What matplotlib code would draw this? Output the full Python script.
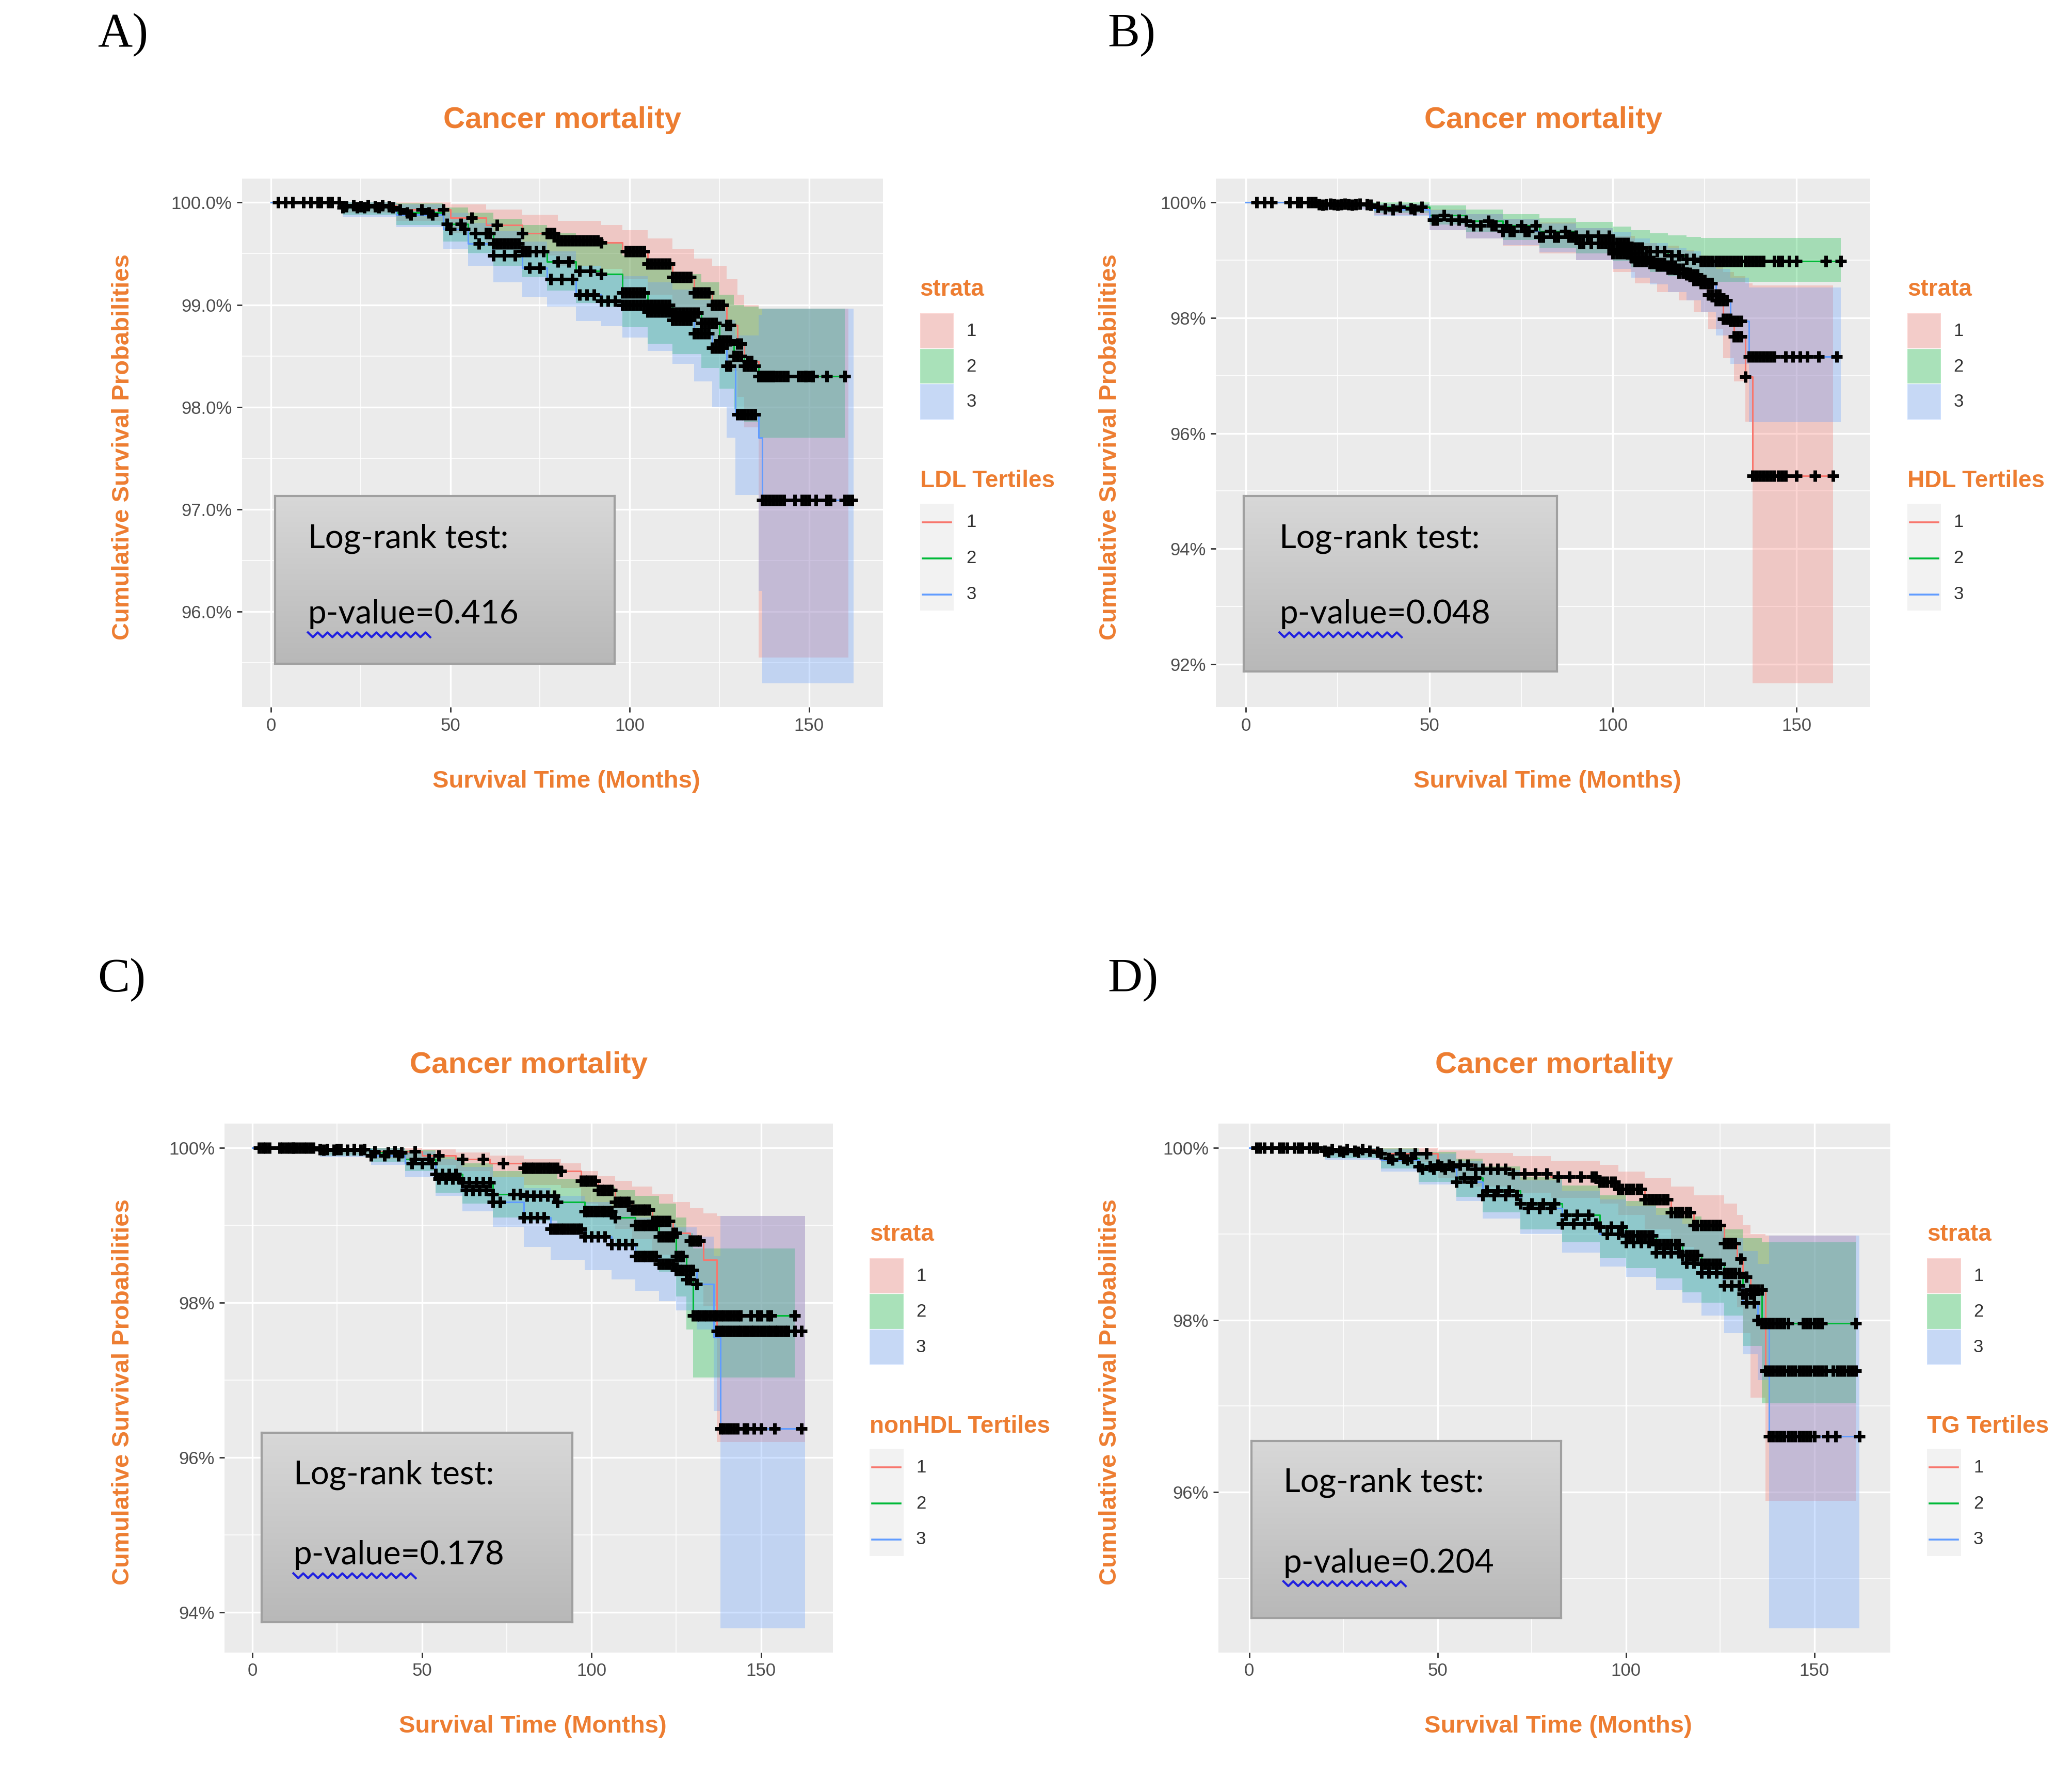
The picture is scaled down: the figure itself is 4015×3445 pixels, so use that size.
import numpy as np
import matplotlib
matplotlib.use('Agg')
import matplotlib.pyplot as plt
from matplotlib.patches import Rectangle
from matplotlib.lines import Line2D
from matplotlib.colors import LinearSegmentedColormap
from matplotlib import font_manager

# ---------------- data ----------------
STRATA = ['1', '2', '3']
COLORS = ['#F8766D', '#00BA38', '#619CFF']
ORANGE = '#ED7D31'

PANEL_LETTERS = ['A)', 'B)', 'C)', 'D)']
LEGEND_TITLES = ['LDL Tertiles', 'HDL Tertiles', 'nonHDL Tertiles', 'TG Tertiles']
P_VALUES = ['0.416', '0.048', '0.178', '0.204']
X_TICKS = [0, 50, 100, 150]

A_YTICKS = [96, 97, 98, 99, 100]
A_YLABELS = ['96.0%', '97.0%', '98.0%', '99.0%', '100.0%']
B_YTICKS = [92, 94, 96, 98, 100]
B_YLABELS = ['92%', '94%', '96%', '98%', '100%']
C_YTICKS = [94, 96, 98, 100]
C_YLABELS = ['94%', '96%', '98%', '100%']
D_YTICKS = [96, 98, 100]
D_YLABELS = ['96%', '98%', '100%']

# Panel A (LDL) - step times, survival %, CI bounds, censor times
A_T1 = [0, 20, 35, 50, 60, 70, 80, 92, 98, 105, 112, 118, 123, 127, 130, 132, 136, 161]
A_S1 = [100, 99.97, 99.93, 99.85, 99.78, 99.7, 99.63, 99.61, 99.52, 99.4, 99.27, 99.12, 99.0, 98.8, 98.62, 98.45, 98.3, 98.3]
A_HI1 = [100, 100, 100, 99.98, 99.93, 99.88, 99.82, 99.78, 99.73, 99.65, 99.55, 99.45, 99.38, 99.25, 99.1, 99.0, 98.96, 98.96]
A_LO1 = [100, 99.9, 99.82, 99.7, 99.6, 99.48, 99.38, 99.35, 99.25, 99.1, 98.95, 98.78, 98.6, 98.35, 98.1, 97.8, 95.55, 95.55]
A_C1 = [2, 9, 14, 19, 23, 27, 31, 36, 42, 48, 56, 63, 70, 77, 78, 79, 80, 81, 82, 83, 84, 85, 86, 87, 88, 89, 90, 91,
        92, 99, 100, 101, 102, 103, 104, 105, 106, 107, 108, 109, 110, 111, 112, 113, 114, 115, 116, 117, 118, 119, 120,
        121, 122, 123, 124, 125, 126, 127, 128, 130, 131, 133, 134, 136, 137, 138, 139, 140, 141, 142, 143, 144, 148,
        149, 150, 151, 155, 160]

A_T2 = [0, 20, 35, 48, 55, 62, 70, 77, 85, 92, 98, 105, 112, 120, 125, 129, 132, 136, 160]
A_S2 = [100, 99.96, 99.9, 99.79, 99.7, 99.6, 99.52, 99.42, 99.33, 99.3, 99.12, 99.0, 98.92, 98.82, 98.65, 98.5, 98.4, 98.3, 98.3]
A_HI2 = [100, 100, 99.99, 99.95, 99.9, 99.84, 99.78, 99.7, 99.63, 99.6, 99.48, 99.38, 99.3, 99.22, 99.1, 99.0, 98.98, 98.96, 98.96]
A_LO2 = [100, 99.88, 99.78, 99.62, 99.5, 99.38, 99.27, 99.14, 99.02, 98.98, 98.78, 98.62, 98.52, 98.38, 98.18, 97.98, 97.85, 97.7, 97.7]
A_C2 = [4, 11, 16, 21, 25, 29, 33, 38, 44, 49, 53, 57, 60, 61, 62, 63, 64, 65, 66, 67, 68, 69, 70, 71, 72, 74, 76, 80,
        83, 86, 89, 92, 98, 99, 100, 101, 102, 103, 104, 105, 106, 107, 108, 109, 110, 111, 112, 113, 114, 115, 116,
        117, 118, 119, 120, 121, 122, 123, 124, 125, 126, 127, 128, 129, 130, 131, 132, 133, 134, 135, 136, 137, 138,
        139, 140, 147, 149, 151, 160]

A_T3 = [0, 20, 35, 48, 55, 62, 70, 77, 85, 92, 98, 105, 112, 118, 123, 127, 129.5, 136, 137, 162.5]
A_S3 = [100, 99.95, 99.88, 99.74, 99.6, 99.48, 99.36, 99.25, 99.1, 99.04, 99.0, 98.93, 98.85, 98.72, 98.58, 98.4, 97.93, 97.7, 97.09, 97.09]
A_HI3 = [100, 100, 99.98, 99.9, 99.8, 99.72, 99.62, 99.52, 99.38, 99.3, 99.28, 99.22, 99.15, 99.05, 98.95, 98.85, 98.7, 98.9, 98.96, 98.96]
A_LO3 = [100, 99.86, 99.76, 99.55, 99.38, 99.22, 99.08, 98.98, 98.84, 98.79, 98.68, 98.55, 98.42, 98.25, 98.0, 97.7, 97.14, 96.2, 95.3, 95.3]
A_C3 = [6, 13, 17, 20, 24, 26, 30, 34, 39, 45, 50, 54, 58, 62, 65, 68, 72, 75, 78, 81, 84, 86, 88, 90, 92, 94, 96, 98,
        99, 100, 101, 102, 103, 104, 105, 106, 107, 108, 109, 110, 111, 112, 113, 114, 115, 116, 117, 118, 119, 120,
        121, 122, 123, 124, 125, 126, 127, 128, 130, 131, 132, 133, 134, 135, 137, 138, 139, 140, 141, 142, 143, 146,
        148, 149, 150, 152, 155, 156, 160, 161, 162]

# Panel B (HDL)
B_T1 = [0, 20, 35, 50, 60, 70, 80, 90, 100, 106, 112, 118, 122, 126, 130, 133, 136, 138, 160]
B_S1 = [100, 99.97, 99.9, 99.7, 99.6, 99.5, 99.4, 99.3, 99.12, 98.98, 98.9, 98.78, 98.65, 98.4, 97.98, 97.68, 96.98, 95.26, 95.26]
B_HI1 = [100, 100, 99.98, 99.88, 99.8, 99.72, 99.65, 99.56, 99.42, 99.3, 99.25, 99.17, 99.08, 98.95, 98.8, 98.72, 98.6, 98.56, 98.56]
B_LO1 = [100, 99.9, 99.78, 99.52, 99.38, 99.25, 99.12, 99.0, 98.8, 98.6, 98.45, 98.3, 98.1, 97.8, 97.3, 96.9, 96.2, 91.67, 91.67]
B_C1 = [3, 12, 17, 20, 22, 24, 26, 28, 30, 33, 38, 45, 52, 58, 64, 68, 72, 76, 80, 84, 88, 92, 96, 98, 100, 101, 102,
        103, 104, 105, 106, 107, 108, 109, 110, 111, 112, 113, 114, 115, 116, 117, 118, 119, 120, 121, 122, 123, 124,
        125, 126, 127, 128, 129, 130, 131, 132, 133, 134, 135, 136, 138, 139, 140, 141, 142, 143, 144, 145, 146, 147,
        150, 155, 160]

B_T2 = [0, 20, 35, 50, 60, 70, 80, 90, 100, 105, 110, 115, 120, 124, 162]
B_S2 = [100, 99.98, 99.92, 99.78, 99.68, 99.6, 99.5, 99.42, 99.3, 99.22, 99.15, 99.08, 99.02, 98.98, 98.98]
B_HI2 = [100, 100, 100, 99.95, 99.88, 99.8, 99.73, 99.66, 99.58, 99.52, 99.47, 99.43, 99.4, 99.39, 99.39]
B_LO2 = [100, 99.92, 99.82, 99.62, 99.48, 99.35, 99.22, 99.12, 98.98, 98.88, 98.8, 98.72, 98.66, 98.63, 98.63]
B_C2 = [5, 14, 19, 23, 27, 31, 36, 42, 48, 54, 60, 66, 71, 75, 79, 83, 87, 90, 93, 96, 99, 100, 101, 102, 103, 104,
        105, 106, 107, 108, 110, 112, 114, 116, 118, 120, 122, 124, 125, 126, 127, 128, 129, 130, 131, 132, 133, 134,
        135, 136, 137, 138, 139, 140, 141, 144, 145, 146, 148, 150, 158, 162]

B_T3 = [0, 20, 35, 50, 60, 70, 80, 90, 100, 105, 110, 115, 120, 124, 128, 132, 137, 162]
B_S3 = [100, 99.96, 99.88, 99.7, 99.6, 99.5, 99.4, 99.3, 99.18, 99.05, 98.95, 98.85, 98.75, 98.6, 98.3, 97.95, 97.33, 97.33]
B_HI3 = [100, 100, 99.98, 99.87, 99.8, 99.72, 99.64, 99.56, 99.48, 99.38, 99.3, 99.22, 99.15, 99.05, 98.85, 98.7, 98.53, 98.53]
B_LO3 = [100, 99.88, 99.76, 99.52, 99.38, 99.26, 99.14, 99.0, 98.85, 98.7, 98.58, 98.45, 98.3, 98.1, 97.7, 97.2, 96.19, 96.19]
B_C3 = [7, 15, 18, 21, 25, 29, 34, 40, 46, 51, 56, 62, 67, 70, 73, 77, 81, 85, 89, 91, 94, 97, 99, 100, 101, 102, 103,
        104, 105, 106, 107, 108, 109, 110, 111, 112, 113, 114, 115, 116, 117, 118, 119, 120, 121, 122, 123, 124, 125,
        126, 127, 128, 129, 130, 131, 132, 133, 134, 135, 137, 138, 139, 140, 141, 142, 143, 144, 147, 149, 151, 153,
        156, 161]

# Panel C (nonHDL)
C_T1 = [0, 20, 35, 50, 60, 70, 80, 91, 97, 102, 107, 112, 118, 124, 129, 133, 137, 163]
C_S1 = [100, 99.98, 99.95, 99.9, 99.85, 99.8, 99.74, 99.7, 99.57, 99.45, 99.3, 99.2, 99.05, 98.9, 98.8, 98.55, 97.63, 97.63]
C_HI1 = [100, 100, 100, 99.98, 99.94, 99.9, 99.85, 99.8, 99.7, 99.63, 99.57, 99.5, 99.4, 99.3, 99.22, 99.15, 99.12, 99.12]
C_LO1 = [100, 99.92, 99.86, 99.78, 99.7, 99.62, 99.52, 99.48, 99.28, 99.12, 98.95, 98.82, 98.62, 98.42, 98.28, 97.95, 96.2, 96.2]
C_C1 = [2, 5, 10, 12, 14, 16, 20, 25, 30, 36, 42, 48, 55, 62, 68, 74, 80, 81, 82, 83, 84, 85, 86, 87, 88, 89, 90, 91,
        97, 98, 99, 100, 101, 102, 103, 104, 105, 106, 107, 108, 109, 110, 111, 112, 113, 114, 115, 116, 117, 118, 119,
        120, 121, 122, 123, 124, 125, 129, 130, 131, 132, 137, 138, 139, 140, 141, 142, 143, 144, 145, 146, 147, 148,
        149, 150, 151, 152, 153, 154, 155, 156, 157, 158, 160, 162]

C_T2 = [0, 20, 35, 45, 54, 62, 71, 80, 90, 98, 107, 113, 120, 125, 128, 130, 160]
C_S2 = [100, 99.98, 99.94, 99.85, 99.66, 99.55, 99.4, 99.38, 99.3, 99.18, 99.1, 99.0, 98.85, 98.6, 98.3, 97.83, 97.83]
C_HI2 = [100, 100, 100, 99.97, 99.88, 99.8, 99.7, 99.67, 99.6, 99.5, 99.45, 99.38, 99.28, 99.1, 98.9, 98.7, 98.7]
C_LO2 = [100, 99.9, 99.82, 99.7, 99.42, 99.28, 99.1, 99.06, 98.96, 98.82, 98.72, 98.6, 98.4, 98.08, 97.65, 97.03, 97.03]
C_C2 = [3, 8, 11, 13, 15, 18, 22, 26, 30, 33, 36, 40, 44, 48, 52, 54, 56, 58, 60, 62, 64, 66, 68, 70, 71, 77, 79, 81,
        83, 85, 87, 89, 90, 98, 99, 100, 101, 102, 103, 104, 105, 106, 107, 113, 114, 115, 116, 117, 118, 119, 120,
        121, 122, 123, 124, 125, 126, 127, 128, 129, 130, 131, 132, 133, 134, 135, 136, 137, 138, 139, 140, 141, 142,
        143, 144, 147, 149, 150, 152, 153, 160]

C_T3 = [0, 20, 35, 45, 54, 62, 71, 80, 88, 98, 106, 113, 120, 125, 131, 136, 138, 163]
C_S3 = [100, 99.97, 99.9, 99.8, 99.6, 99.45, 99.3, 99.1, 98.95, 98.85, 98.75, 98.6, 98.5, 98.42, 98.24, 97.55, 96.37, 96.37]
C_HI3 = [100, 100, 99.99, 99.95, 99.85, 99.75, 99.62, 99.48, 99.38, 99.3, 99.22, 99.1, 99.02, 98.97, 98.85, 98.6, 99.12, 99.12]
C_LO3 = [100, 99.88, 99.78, 99.62, 99.38, 99.18, 98.98, 98.72, 98.55, 98.42, 98.3, 98.15, 98.02, 97.9, 97.65, 96.6, 93.79, 93.79]
C_C3 = [4, 9, 12, 17, 21, 24, 28, 32, 35, 39, 43, 47, 50, 53, 55, 57, 59, 61, 63, 65, 67, 69, 71, 73, 80, 82, 84, 86,
        88, 89, 90, 91, 92, 93, 94, 95, 96, 97, 98, 100, 102, 104, 106, 108, 110, 112, 113, 114, 115, 116, 117, 118,
        119, 120, 121, 122, 123, 124, 125, 126, 127, 128, 129, 130, 131, 138, 139, 140, 141, 142, 143, 145, 146, 148,
        150, 154, 162]

# Panel D (TG)
D_T1 = [0, 20, 35, 50, 60, 70, 80, 93, 98, 105, 112, 118, 126, 129.5, 131, 133, 137, 161]
D_S1 = [100, 99.98, 99.93, 99.8, 99.75, 99.7, 99.66, 99.6, 99.52, 99.4, 99.25, 99.1, 98.89, 98.71, 98.5, 98.35, 97.41, 97.41]
D_HI1 = [100, 100, 100, 99.97, 99.94, 99.9, 99.85, 99.8, 99.72, 99.65, 99.55, 99.45, 99.35, 99.22, 99.1, 99.0, 98.98, 98.98]
D_LO1 = [100, 99.92, 99.83, 99.65, 99.55, 99.48, 99.42, 99.35, 99.22, 99.05, 98.85, 98.68, 98.4, 98.15, 97.85, 97.1, 95.9, 95.9]
D_C1 = [2, 6, 10, 14, 18, 22, 26, 30, 35, 40, 44, 47, 50, 53, 56, 58, 60, 62, 64, 66, 68, 70, 73, 76, 79, 82, 85, 88,
        91, 92, 93, 94, 95, 96, 97, 98, 99, 100, 101, 102, 103, 104, 105, 106, 107, 108, 109, 110, 111, 112, 113, 114,
        115, 116, 117, 118, 119, 120, 121, 122, 123, 124, 125, 126, 127, 128, 129, 130.5, 132, 133, 134, 135, 136, 137,
        138, 139, 140, 141, 142, 143, 144, 145, 146, 147, 148, 149, 150, 151, 152, 153, 155, 156, 157, 158, 159, 160, 161]

D_T2 = [0, 20, 35, 45, 55, 62, 72, 83, 93, 100, 108, 115, 120, 126, 131, 136, 161]
D_S2 = [100, 99.96, 99.88, 99.78, 99.65, 99.5, 99.35, 99.22, 99.08, 98.98, 98.88, 98.75, 98.65, 98.54, 98.3, 97.96, 97.96]
D_HI2 = [100, 100, 99.99, 99.95, 99.87, 99.78, 99.66, 99.56, 99.45, 99.38, 99.3, 99.2, 99.12, 99.05, 98.95, 98.9, 98.9]
D_LO2 = [100, 99.88, 99.76, 99.6, 99.43, 99.25, 99.05, 98.9, 98.72, 98.6, 98.48, 98.32, 98.2, 98.05, 97.7, 97.03, 97.03]
D_C2 = [3, 8, 12, 16, 20, 24, 28, 32, 37, 41, 43, 45, 48, 51, 54, 57, 60, 63, 66, 69, 72, 75, 78, 81, 84, 87, 90, 93,
        96, 99, 100, 101, 102, 103, 104, 105, 106, 107, 108, 109, 110, 111, 112, 113, 114, 115, 116, 117, 118, 119, 120,
        121, 122, 123, 124, 125, 126, 127, 128, 129, 130, 131, 132, 133, 134, 136, 137, 138, 139, 140, 141, 142, 143,
        147, 148, 149, 150, 151, 152, 161]

D_T3 = [0, 20, 35, 45, 55, 62, 72, 83, 93, 100, 108, 115, 120, 126, 131, 135, 138, 162]
D_S3 = [100, 99.95, 99.86, 99.75, 99.6, 99.45, 99.3, 99.12, 99.0, 98.9, 98.78, 98.66, 98.55, 98.4, 98.2, 98.0, 96.65, 96.65]
D_HI3 = [100, 100, 99.98, 99.93, 99.84, 99.74, 99.62, 99.5, 99.4, 99.32, 99.22, 99.12, 99.05, 98.95, 98.8, 98.65, 98.98, 98.98]
D_LO3 = [100, 99.86, 99.72, 99.57, 99.38, 99.18, 99.0, 98.78, 98.62, 98.5, 98.35, 98.2, 98.05, 97.85, 97.6, 97.3, 94.42, 94.42]
D_C3 = [4, 9, 13, 17, 21, 25, 29, 34, 38, 42, 46, 49, 52, 55, 59, 62, 65, 68, 71, 74, 77, 80, 83, 86, 89, 92, 95, 98,
        100, 102, 104, 106, 108, 110, 112, 114, 116, 118, 120, 122, 124, 126, 128, 130, 132, 134, 135, 138, 139, 140,
        141, 142, 143, 144, 145, 146, 147, 148, 149, 150, 153.5, 155.7, 162]

# ---------------- layout (in 1568 x 1345 reference units) ----------------
REF_W, REF_H = 1568.0, 1345.0

PANEL_BOXES = [(183, 135, 668, 535), (920, 135, 1415, 535), (170, 850, 630, 1250), (922, 850, 1430, 1250)]
LETTER_POS = [(74, 35), (838, 35), (74, 750), (838, 750)]
LOGRANK_BOXES = [(208, 375, 465, 502), (941, 375, 1178, 508), (198, 1084, 433, 1227), (947, 1090, 1181, 1224)]
LOGRANK_TEXT = [(233, 414.5, 471.7), (968, 414.5, 471.7), (222, 1122.5, 1183.5), (971, 1128.5, 1189.5)]
YLABEL_X = [93, 840, 93, 840]

plt.rcParams['font.family'] = ['Liberation Sans', 'DejaVu Sans']
installed = {f.name for f in font_manager.fontManager.ttflist}
BOX_FONT = 'Lato' if 'Lato' in installed else 'DejaVu Sans'
SERIF = 'Liberation Serif' if 'Liberation Serif' in installed else 'DejaVu Serif'


def fx(x):
    return x / REF_W


def fy(y):
    return 1 - y / REF_H


def rect(x0, y0, x1, y1):
    return [fx(x0), fy(y1), (x1 - x0) / REF_W, (y1 - y0) / REF_H]


def step_at(t, s, when):
    idx = np.searchsorted(t, when, side='right') - 1
    return np.asarray(s)[idx]


def minor_between(ticks, lo, hi):
    step = ticks[1] - ticks[0]
    cands = [ticks[0] - step / 2] + [v + step / 2 for v in ticks]
    return [v for v in cands if lo < v < hi]


fig = plt.figure(figsize=(40.16, 34.45), dpi=100)

panels = [
    ([(A_T1, A_S1, A_LO1, A_HI1, A_C1), (A_T2, A_S2, A_LO2, A_HI2, A_C2), (A_T3, A_S3, A_LO3, A_HI3, A_C3)],
     A_YTICKS, A_YLABELS),
    ([(B_T1, B_S1, B_LO1, B_HI1, B_C1), (B_T2, B_S2, B_LO2, B_HI2, B_C2), (B_T3, B_S3, B_LO3, B_HI3, B_C3)],
     B_YTICKS, B_YLABELS),
    ([(C_T1, C_S1, C_LO1, C_HI1, C_C1), (C_T2, C_S2, C_LO2, C_HI2, C_C2), (C_T3, C_S3, C_LO3, C_HI3, C_C3)],
     C_YTICKS, C_YLABELS),
    ([(D_T1, D_S1, D_LO1, D_HI1, D_C1), (D_T2, D_S2, D_LO2, D_HI2, D_C2), (D_T3, D_S3, D_LO3, D_HI3, D_C3)],
     D_YTICKS, D_YLABELS),
]

grad = LinearSegmentedColormap.from_list('boxgrad', ['#D8D8D8', '#B8B8B8'])

for i, (strata, yticks, ylabels) in enumerate(panels):
    x0, y0, x1, y1 = PANEL_BOXES[i]
    ax = fig.add_axes(rect(x0, y0, x1, y1))
    ax.set_facecolor('#EBEBEB')
    for sp in ax.spines.values():
        sp.set_visible(False)

    # confidence ribbons
    for (t, s, lo, hi, cens), col in zip(strata, COLORS):
        ax.fill_between(t, lo, hi, step='post', color=col, alpha=0.3, linewidth=0, zorder=2)
    # survival curves
    for (t, s, lo, hi, cens), col in zip(strata, COLORS):
        ax.step(t, s, where='post', color=col, lw=2.2, zorder=3)
    # censor marks
    for (t, s, lo, hi, cens), col in zip(strata, COLORS):
        ax.plot(cens, step_at(t, s, cens), ls='none', marker='+', ms=16, mew=5,
                color='black', zorder=4)

    tmax = max(max(st[0]) for st in strata)
    ymin = min(min(st[2]) for st in strata)
    ax.set_xlim(-0.05 * tmax, tmax * 1.05)
    ax.set_ylim(ymin - 0.05 * (100 - ymin), 100 + 0.05 * (100 - ymin))
    ax.set_xticks(X_TICKS)
    ax.set_xticks(minor_between(X_TICKS, *ax.get_xlim()), minor=True)
    ax.set_yticks(yticks)
    ax.set_yticklabels(ylabels)
    ax.set_yticks(minor_between(yticks, *ax.get_ylim()), minor=True)
    ax.grid(which='major', color='white', lw=2.4)
    ax.grid(which='minor', color='white', lw=1.2)
    ax.set_axisbelow(True)
    ax.tick_params(which='major', length=7, width=2, color='#333333', pad=7,
                   labelsize=25, labelcolor='#4D4D4D')
    ax.tick_params(which='minor', length=0)

    # titles and axis labels
    cx = (x0 + x1) / 2
    fig.text(fx(cx), fy(y0 - 44), 'Cancer mortality', ha='center', va='center',
             fontsize=42, fontweight='bold', color=ORANGE)
    fig.text(fx(cx + 3), fy(y1 + 56), 'Survival Time (Months)', ha='center', va='center',
             fontsize=34, fontweight='bold', color=ORANGE)
    fig.text(fx(YLABEL_X[i]), fy((y0 + y1) / 2 + 3), 'Cumulative Survival Probabilities',
             rotation=90, ha='center', va='center', fontsize=34, fontweight='bold', color=ORANGE)
    lx, ly = LETTER_POS[i]
    fig.text(fx(lx), fy(ly), PANEL_LETTERS[i], ha='left', va='baseline', fontsize=67,
             family=SERIF, color='black')

    # legends
    gx = x1 + 28
    fig.text(fx(gx), fy(y0 + 84), 'strata', ha='left', va='center', fontsize=33,
             fontweight='bold', color=ORANGE)
    for k, (lab, col) in enumerate(zip(STRATA, COLORS)):
        ky = y0 + 102 + 26.8 * k
        fig.add_artist(Rectangle((fx(gx), fy(ky + 26.8)), 25.5 / REF_W, 26.8 / REF_H,
                                 transform=fig.transFigure, facecolor='#F2F2F2', edgecolor='white', lw=1.5))
        fig.add_artist(Rectangle((fx(gx), fy(ky + 26.8)), 25.5 / REF_W, 26.8 / REF_H,
                                 transform=fig.transFigure, facecolor=col, alpha=0.3, edgecolor='none'))
        fig.text(fx(gx + 35), fy(ky + 13.4), lab, ha='left', va='center', fontsize=25, color='#333333')
    fig.text(fx(gx), fy(y0 + 229), LEGEND_TITLES[i], ha='left', va='center', fontsize=33,
             fontweight='bold', color=ORANGE)
    fig.add_artist(Rectangle((fx(gx), fy(y0 + 327)), 25.5 / REF_W, 81 / REF_H,
                             transform=fig.transFigure, facecolor='#F2F2F2', edgecolor='none'))
    for k, (lab, col) in enumerate(zip(STRATA, COLORS)):
        ky = y0 + 260 + 27.3 * k
        fig.add_artist(Line2D([fx(gx + 2), fx(gx + 23.5)], [fy(ky), fy(ky)],
                              transform=fig.transFigure, color=col, lw=2.6))
        fig.text(fx(gx + 35), fy(ky), lab, ha='left', va='center', fontsize=25, color='#333333')

    # log-rank annotation box
    bx0, by0, bx1, by1 = LOGRANK_BOXES[i]
    axb = fig.add_axes(rect(bx0, by0, bx1, by1))
    axb.imshow(np.linspace(0, 1, 64)[:, None], cmap=grad, aspect='auto', extent=[0, 1, 0, 1])
    axb.set_xticks([])
    axb.set_yticks([])
    for sp in axb.spines.values():
        sp.set_color('#A0A0A0')
        sp.set_linewidth(3)
    tx, ty1, ty2 = LOGRANK_TEXT[i]
    fig.text(fx(tx), fy(ty1), 'Log-rank test:', ha='left', va='baseline', fontsize=46,
             family=BOX_FONT, color='black')
    fig.text(fx(tx), fy(ty2), 'p-value=' + P_VALUES[i], ha='left', va='baseline', fontsize=46,
             family=BOX_FONT, color='black')
    probe = fig.text(fx(tx), fy(ty2), 'p-value=', ha='left', va='baseline', fontsize=46,
                     family=BOX_FONT, alpha=0)
    fig.canvas.draw()
    ext = probe.get_window_extent()
    x_end = ext.x1 / fig.bbox.width * REF_W
    # spell-check squiggle under "p-value"
    zz_x = np.arange(tx, x_end, 3.7)
    zz_y = ty2 + 8.5 + np.where(np.arange(len(zz_x)) % 2 == 0, -1.8, 1.8)
    fig.add_artist(Line2D(fx(zz_x), fy(zz_y), transform=fig.transFigure, color='#2020E0', lw=3))

fig.savefig('out.png', dpi=100, facecolor='white')
